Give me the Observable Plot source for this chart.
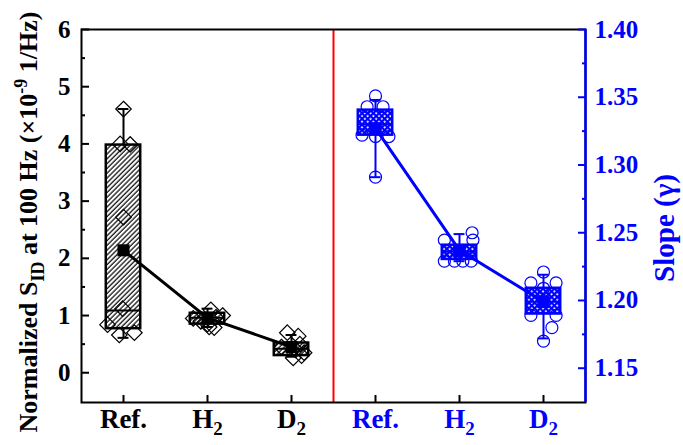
<!DOCTYPE html>
<html><head><meta charset="utf-8">
<script src="https://cdn.jsdelivr.net/npm/d3@7"></script>
<script src="https://cdn.jsdelivr.net/npm/@observablehq/plot@0.6"></script>
<style>body{margin:0;background:#fff}</style>
</head><body><div id="chart"></div>
<script>
// Categories
const groups = ["Ref.", "H2", "D2"];

// Left panel: normalized S_ID at 100 Hz (x10^-9 1/Hz)
const sidQ1 = [0.77, 0.85, 0.30];
const sidQ3 = [3.98, 1.04, 0.52];
const sidMedian = [1.09, 0.96, 0.42];
const sidMean = [2.14, 0.96, 0.45];
const sidLow = [0.61, 0.80, 0.28];
const sidHigh = [4.61, 1.12, 0.66];
const sidPoints = [
  [4.61, 4.00, 3.99, 2.72, 1.12, 0.84, 0.66, 0.70],
  [1.10, 1.00, 0.95, 0.97, 0.90, 0.85, 0.80, 0.79],
  [0.70, 0.64, 0.50, 0.45, 0.40, 0.35, 0.30, 0.26]
];
const sidJitter = [
  [0.00, -0.04, 0.08, 0.00, -0.01, -0.19, -0.05, 0.13],
  [0.04, 0.18, -0.17, 0.10, -0.08, 0.00, 0.02, 0.08],
  [-0.05, 0.08, 0.10, -0.12, 0.05, 0.15, 0.12, 0.02]
];

// Right panel: slope (gamma)
const slopeQ1 = [1.322, 1.2303, 1.190];
const slopeQ3 = [1.3405, 1.2408, 1.209];
const slopeMedian = [1.330, 1.236, 1.199];
const slopeMean = [1.327, 1.237, 1.199];
const slopeLow = [1.291, 1.229, 1.172];
const slopeHigh = [1.348, 1.249, 1.219];
const slopePoints = [
  [1.351, 1.343, 1.343, 1.322, 1.321, 1.321, 1.291],
  [1.250, 1.2445, 1.2445, 1.229, 1.229, 1.229, 1.229],
  [1.221, 1.213, 1.213, 1.209, 1.189, 1.189, 1.180, 1.170]
];
const slopeJitter = [
  [0.00, -0.10, 0.09, -0.16, 0.00, 0.16, 0.00],
  [0.15, -0.18, 0.16, -0.18, -0.06, 0.04, 0.14],
  [0.00, -0.15, 0.15, 0.00, -0.15, 0.15, 0.10, 0.00]
];

// Axis ticks
const sidTicks = [0, 1, 2, 3, 4, 5, 6];
const sidMinor = [0.5, 1.5, 2.5, 3.5, 4.5, 5.5];
const slopeTicks = [1.15, 1.20, 1.25, 1.30, 1.35, 1.40];
const slopeMinor = [1.175, 1.225, 1.275, 1.325, 1.375];

const yDomain = [-0.52, 6];
const slopeDomain = [1.1247, 1.40];
const toLeft = d3.scaleLinear(slopeDomain, yDomain);
const halfW = 0.205, capW = 0.065;

function build(offset, q1, q3, med, mean, lo, hi, pts, jit, f) {
  const boxes = groups.map((g, i) => ({
    x: i + offset + 0.5, q1: f(q1[i]), q3: f(q3[i]), median: f(med[i]),
    mean: f(mean[i]), lo: f(lo[i]), hi: f(hi[i])
  }));
  const points = [];
  pts.forEach((arr, i) => arr.forEach((v, j) => points.push({x: i + offset + 0.5 + jit[i][j], v: f(v)})));
  return {boxes, points};
}
const L = build(0, sidQ1, sidQ3, sidMedian, sidMean, sidLow, sidHigh, sidPoints, sidJitter, v => v);
const R = build(3, slopeQ1, slopeQ3, slopeMedian, slopeMean, slopeLow, slopeHigh, slopePoints, slopeJitter, toLeft);

function boxMarks(d, color, fill, symbol, r, meanR) {
  return [
    Plot.ruleX(d.boxes, {x: "x", y1: "lo", y2: "hi", stroke: color, strokeWidth: 2}),
    Plot.ruleY(d.boxes, {y: "hi", x1: b => b.x - capW, x2: b => b.x + capW, stroke: color, strokeWidth: 2}),
    Plot.ruleY(d.boxes, {y: "lo", x1: b => b.x - capW, x2: b => b.x + capW, stroke: color, strokeWidth: 2}),
    Plot.rect(d.boxes, {x1: b => b.x - halfW, x2: b => b.x + halfW, y1: "q1", y2: "q3", fill, stroke: color, strokeWidth: 2.5}),
    Plot.ruleY(d.boxes, {y: "median", x1: b => b.x - halfW, x2: b => b.x + halfW, stroke: color, strokeWidth: 2}),
    Plot.dot(d.points, {x: "x", y: "v", symbol, r, stroke: color, strokeWidth: 1.2, fill: "none"}),
    Plot.line(d.boxes, {x: "x", y: "mean", stroke: color, strokeWidth: 3}),
    Plot.dot(d.boxes, {x: "x", y: "mean", symbol: "square", r: meanR, fill: color, stroke: "none"})
  ];
}

const font = "'Liberation Serif', 'Times New Roman', serif";
const chart = Plot.plot({
  width: 683, height: 445,
  marginLeft: 81, marginRight: 98, marginTop: 29, marginBottom: 43,
  style: {fontFamily: font, fontWeight: "bold", background: "white", color: "black"},
  x: {domain: [0, 6]},
  y: {domain: yDomain},
  marks: [
    Plot.ruleX([3], {stroke: "#ff0000", strokeWidth: 2}),
    ...boxMarks(L, "black", "url(#hatch)", "diamond2", 7, 6.8),
    ...boxMarks(R, "#0000ff", "url(#checks)", "circle", 6, 7),
    Plot.frame({stroke: "black", strokeWidth: 2}),
    Plot.ruleX([6], {stroke: "#0000ff", strokeWidth: 2.5}),
    // left axis
    Plot.axisY(sidTicks, {anchor: "left", tickSize: -8, stroke: "black", strokeWidth: 2, fill: "none"}),
    Plot.axisY(sidMinor, {anchor: "left", tickSize: -4, stroke: "black", strokeWidth: 2, fill: "none"}),
    Plot.axisY(sidTicks, {anchor: "left", tickSize: 0, tickPadding: 11, fontSize: 25, fontWeight: "bold", label: null, fill: "black",
      tickFormat: d => String(d)}),
    // right axis
    Plot.axisY(slopeTicks.map(toLeft), {anchor: "right", tickSize: -8, stroke: "#0000ff", strokeWidth: 2, fill: "none"}),
    Plot.axisY(slopeMinor.map(toLeft), {anchor: "right", tickSize: -4, stroke: "#0000ff", strokeWidth: 2, fill: "none"}),
    Plot.axisY(slopeTicks.map(toLeft), {anchor: "right", tickSize: 0, tickPadding: 9, fontSize: 25, fontWeight: "bold", label: null, fill: "#0000ff",
      tickFormat: d => toLeft.invert(d).toFixed(2)}),
    // bottom axis
    Plot.axisX([0.5, 1.5, 2.5, 3.5, 4.5, 5.5], {anchor: "bottom", tickSize: -7, stroke: "black", strokeWidth: 2, fill: "none"}),
    Plot.axisX([0.5, 1.5, 2.5], {anchor: "bottom", tickSize: 0, tickPadding: 6, fontSize: 27, fontWeight: "bold", label: null, fill: "black",
      tickFormat: d => groups[Math.round(d - 0.5)]}),
    Plot.axisX([3.5, 4.5, 5.5], {anchor: "bottom", tickSize: 0, tickPadding: 6, fontSize: 27, fontWeight: "bold", label: null, fill: "#0000ff",
      tickFormat: d => groups[Math.round(d - 3.5)]})
  ]
});

const ns = "http://www.w3.org/2000/svg";
const defs = document.createElementNS(ns, "defs");
defs.innerHTML = `
<pattern id="hatch" patternUnits="userSpaceOnUse" width="3.4" height="3.4" patternTransform="rotate(45)">
  <rect width="3.4" height="3.4" fill="white"/>
  <line x1="1" y1="0" x2="1" y2="3.4" stroke="black" stroke-width="1.2"/>
</pattern>
<pattern id="checks" patternUnits="userSpaceOnUse" width="4" height="4" patternTransform="rotate(45)">
  <rect width="4" height="4" fill="#0000ff"/>
  <rect x="1.2" y="1.2" width="1.8" height="1.8" fill="white"/>
</pattern>`;
chart.insertBefore(defs, chart.firstChild);

// subscripts in category labels
chart.querySelectorAll("text").forEach(t => {
  const m = /^([HD])2$/.exec(t.textContent);
  if (m) {
    t.textContent = m[1];
    const s = document.createElementNS(ns, "tspan");
    s.setAttribute("dy", "7");
    s.setAttribute("font-size", "19");
    s.textContent = "2";
    t.appendChild(s);
  }
});

function addTitle(x, y, color, size, parts) {
  const t = document.createElementNS(ns, "text");
  t.setAttribute("transform", `translate(${x},${y}) rotate(-90)`);
  t.setAttribute("text-anchor", "middle");
  t.setAttribute("fill", color);
  t.setAttribute("font-size", size);
  t.setAttribute("font-weight", "bold");
  t.setAttribute("font-family", font);
  parts.forEach(([txt, dy, fs]) => {
    const s = document.createElementNS(ns, "tspan");
    if (dy) s.setAttribute("dy", dy);
    if (fs) s.setAttribute("font-size", fs);
    s.textContent = txt;
    t.appendChild(s);
  });
  chart.appendChild(t);
}
addTitle(37, 222, "black", 26, [
  ["Normalized S"], ["ID", 7, 18], [" at 100 Hz (\u00d710", -7], ["-9", -10, 18], [" 1/Hz)", 10]
]);
addTitle(674, 228, "#0000ff", 29, [["Slope (\u03b3)"]]);

document.getElementById("chart").appendChild(chart);
</script>
</body></html>
